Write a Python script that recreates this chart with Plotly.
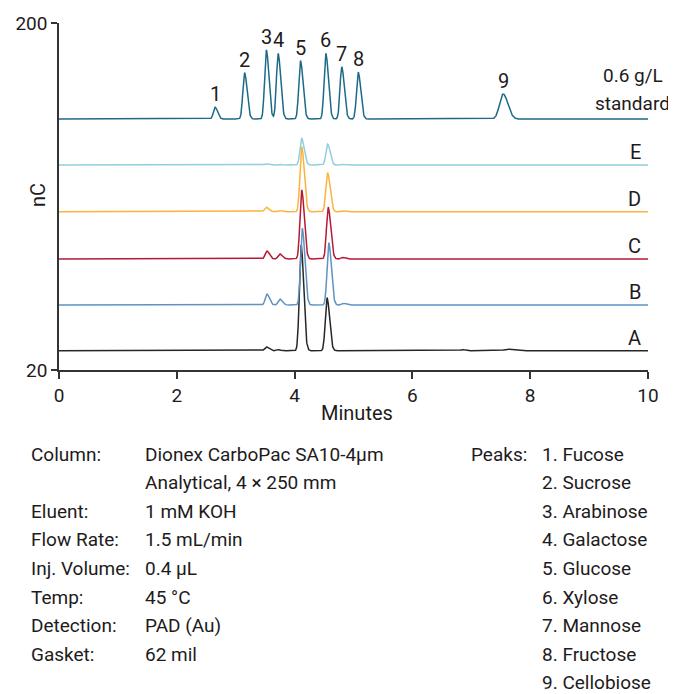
import numpy as np
import plotly.graph_objects as go

# ---------------- data ----------------
peak_numbers = ["1", "2", "3", "4", "5", "6", "7", "8", "9"]
peak_names = ["Fucose", "Sucrose", "Arabinose", "Galactose", "Glucose",
              "Xylose", "Mannose", "Fructose", "Cellobiose"]

# 0.6 g/L standard
std_base = 150.2
std_rt = [2.65, 3.15, 3.52, 3.72, 4.10, 4.53, 4.80, 5.08, 7.54]
std_h = [6.1, 24.0, 35.8, 34.0, 30.2, 34.0, 27.0, 24.2, 13.0]

# samples (retention time in min, peak height in nC above baseline)
e_base = 126.3
e_rt = [3.52, 3.74, 4.12, 4.56, 4.82]
e_h = [0.6, 0.5, 13.8, 10.9, 0.4]

d_base = 102.1
d_rt = [3.52, 3.74, 4.12, 4.56, 4.82]
d_h = [2.3, 0.6, 33.7, 20.2, 0.5]

c_base = 77.6
c_rt = [3.53, 3.75, 4.12, 4.57, 4.82]
c_h = [4.1, 2.6, 35.8, 26.8, 0.8]

b_base = 53.7
b_rt = [3.53, 3.75, 4.13, 4.58, 4.83]
b_h = [5.7, 3.1, 39.8, 32.3, 0.9]

a_base = 30.0
a_rt = [3.52, 3.72, 4.11, 4.55, 6.85, 7.62]
a_h = [2.0, 0.5, 54.8, 27.5, 0.6, 0.8]

sample_labels = ["E", "D", "C", "B", "A"]
x_ticks = [0, 2, 4, 6, 8, 10]
y_ticks = [20, 200]

conditions_keys = ["Column:", "", "Eluent:", "Flow Rate:", "Inj. Volume:",
                   "Temp:", "Detection:", "Gasket:"]
conditions_vals = ["Dionex CarboPac SA10-4µm", "Analytical, 4 × 250 mm",
                   "1 mM KOH", "1.5 mL/min", "0.4 µL", "45 °C",
                   "PAD (Au)", "62 mil"]

# ---------------- build the chromatogram curves ----------------
minutes = np.round(np.arange(0, 10.0001, 0.005), 4)


def signal(base, rts, hs):
    y = np.full(minutes.shape, base, dtype=float)
    for rt, h in zip(rts, hs):
        sl, sr = (0.06, 0.08) if rt > 7 else (0.029, 0.043)
        s = np.where(minutes < rt, sl, sr)
        y += h * np.exp(-0.5 * ((minutes - rt) / s) ** 2)
    return y


FONT = "Roboto, 'Open Sans', Arial, sans-serif"
TXT = "#1e1b1c"
AX = "#333333"

series = [
    ("standard", std_base, std_rt, std_h, "#1d6a88"),
    ("E", e_base, e_rt, e_h, "#8fcfdd"),
    ("D", d_base, d_rt, d_h, "#fdb33b"),
    ("C", c_base, c_rt, c_h, "#b51a33"),
    ("B", b_base, b_rt, b_h, "#5e93c2"),
    ("A", a_base, a_rt, a_h, "#262626"),
]

fig = go.Figure()
for name, base, rts, hs, col in series[::-1]:
    fig.add_trace(go.Scatter(x=minutes, y=signal(base, rts, hs), mode="lines",
                             name=name, line=dict(color=col, width=1.5),
                             hoverinfo="skip"))

ann = []
# peak numbers above the standard
std_curve = signal(std_base, std_rt, std_h)
for num, rt in zip(peak_numbers, std_rt):
    apex = float(np.interp(rt, minutes, std_curve))
    ann.append(dict(x=rt, y=apex, text=num, showarrow=False, xanchor="center",
                    yanchor="middle", yshift=13,
                    font=dict(family=FONT, size=20, color=TXT)))

# sample letters at the right end
for (name, base, rts, hs, col) in series[1:]:
    ann.append(dict(x=10, y=base, text=name, showarrow=False, xanchor="right",
                    yanchor="middle", xshift=-5, yshift=13,
                    font=dict(family=FONT, size=20, color=TXT)))

# standard label
ann.append(dict(x=9.745, y=std_base, text="0.6 g/L", showarrow=False,
                xanchor="center", yanchor="middle", yshift=44,
                font=dict(family=FONT, size=19, color=TXT)))
ann.append(dict(x=9.745, y=std_base, text="standard", showarrow=False,
                xanchor="center", yanchor="middle", yshift=16,
                font=dict(family=FONT, size=19, color=TXT)))

# page offset (browser default body margin)
OFF = 8
L, R, T, B = 59, 28, 23, 324
W, H = 676 - OFF, 694 - OFF
PW, PH = 676 - L - R, 694 - T - B


def px(xp):
    return (xp - L) / PW


def py(yp):
    return (694 - B - yp) / PH


ann.append(dict(x=px(38), y=py(195), xref="paper", yref="paper", text="nC",
                textangle=-90, showarrow=False, xanchor="center",
                yanchor="middle", font=dict(family=FONT, size=20, color=TXT)))
ann.append(dict(x=px(357), y=py(413), xref="paper", yref="paper",
                text="Minutes", showarrow=False, xanchor="center",
                yanchor="middle", font=dict(family=FONT, size=20, color=TXT)))

# conditions block
line_y0, line_dy = 454, 28.6
for i, (k, v) in enumerate(zip(conditions_keys, conditions_vals)):
    yy = line_y0 + i * line_dy
    if k:
        ann.append(dict(x=px(30), y=py(yy), xref="paper", yref="paper", text=k,
                        showarrow=False, xanchor="left", yanchor="middle",
                        borderpad=0,
                        font=dict(family=FONT, size=19, color=TXT)))
    ann.append(dict(x=px(144), y=py(yy), xref="paper", yref="paper", text=v,
                    showarrow=False, xanchor="left", yanchor="middle",
                    borderpad=0,
                    font=dict(family=FONT, size=19, color=TXT)))

ann.append(dict(x=px(470), y=py(line_y0), xref="paper", yref="paper",
                text="Peaks:", showarrow=False, xanchor="left",
                yanchor="middle", borderpad=0,
                font=dict(family=FONT, size=19, color=TXT)))
for i, (num, nm) in enumerate(zip(peak_numbers, peak_names)):
    ann.append(dict(x=px(541), y=py(line_y0 + i * line_dy), xref="paper",
                    yref="paper", text=f"{num}. {nm}", showarrow=False,
                    xanchor="left", yanchor="middle", borderpad=0,
                    font=dict(family=FONT, size=19, color=TXT)))

fig.update_layout(
    width=W, height=H,
    margin=dict(l=L - OFF, r=R, t=T - OFF, b=B, pad=0, autoexpand=False),
    paper_bgcolor="white", plot_bgcolor="white",
    showlegend=False,
    annotations=ann,
    xaxis=dict(range=[0, 10], tickvals=x_ticks, ticks="outside", ticklen=7,
               tickwidth=1.5, tickcolor=AX, showline=True, linecolor=AX,
               linewidth=1.5, showgrid=False, zeroline=False, automargin=False,
               tickfont=dict(family=FONT, size=19, color=TXT)),
    yaxis=dict(range=[20, 200], tickvals=y_ticks, ticks="outside", ticklen=6,
               tickwidth=1.5, tickcolor=AX, showline=True, linecolor=AX,
               linewidth=1.5, showgrid=False, zeroline=False, automargin=False,
               tickfont=dict(family=FONT, size=19, color=TXT)),
)

fig.write_html("out.html")
